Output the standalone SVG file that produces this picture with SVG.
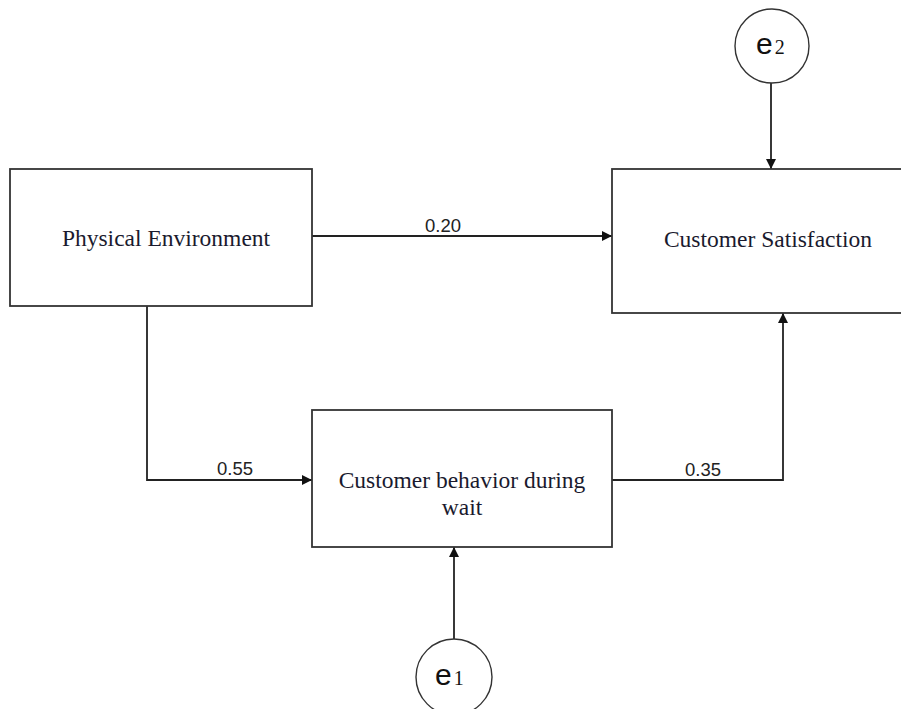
<svg xmlns="http://www.w3.org/2000/svg" width="901" height="709" viewBox="0 0 901 709">
  <defs>
    <marker id="arr" viewBox="0 0 10 10" refX="10" refY="5" markerWidth="11" markerHeight="10" markerUnits="userSpaceOnUse" orient="auto">
      <path d="M0,0 L10,5 L0,10 z" fill="#111"/>
    </marker>
    <style>
      .box { fill: #fff; stroke: #333; stroke-width: 1.8; }
      .circ { fill: #fff; stroke: #333; stroke-width: 1.4; }
      .con { fill: none; stroke: #222; stroke-width: 1.8; marker-end: url(#arr); }
      .nt { font-family: "Liberation Serif", "Times New Roman", serif; font-size: 23.5px; fill: #1a1a2e; text-anchor: middle; }
      .lbl { font-family: "Liberation Sans", Arial, sans-serif; font-size: 18.5px; fill: #222; text-anchor: middle; }
      .e { font-family: "Liberation Sans", Arial, sans-serif; font-size: 30px; fill: #111; }
      .sub { font-family: "Liberation Serif", "Times New Roman", serif; font-size: 20px; fill: #111; }
    </style>
  </defs>
  <rect width="901" height="709" fill="#fff"/>
  <g id="connectors">
    <path class="con" d="M312,236 L612,236"/>
    <path class="con" d="M147,306 L147,480 L312,480"/>
    <path class="con" d="M612,480 L783,480 L783,313"/>
    <path class="con" d="M771,83 L771,169"/>
    <path class="con" d="M454,639 L454,547"/>
    <text class="lbl" x="443" y="232">0.20</text>
    <text class="lbl" x="235" y="475">0.55</text>
    <text class="lbl" x="703" y="476">0.35</text>
  </g>
  <g id="physical-environment">
    <rect class="box" x="10" y="169" width="302" height="137"/>
    <text class="nt" x="166" y="246">Physical Environment</text>
  </g>
  <g id="customer-satisfaction">
    <rect class="box" x="612" y="169" width="312" height="144"/>
    <text class="nt" x="768" y="247">Customer Satisfaction</text>
  </g>
  <g id="customer-behavior">
    <rect class="box" x="312" y="410" width="300" height="137"/>
    <text class="nt" x="462" y="488">Customer behavior during</text>
    <text class="nt" x="462" y="515">wait</text>
  </g>
  <g id="e2">
    <circle class="circ" cx="772" cy="46" r="37"/>
    <text x="756" y="54"><tspan class="e">e</tspan><tspan class="sub" dx="2">2</tspan></text>
  </g>
  <g id="e1">
    <circle class="circ" cx="454" cy="677" r="38"/>
    <text x="435" y="685"><tspan class="e">e</tspan><tspan class="sub" dx="2">1</tspan></text>
  </g>
</svg>
